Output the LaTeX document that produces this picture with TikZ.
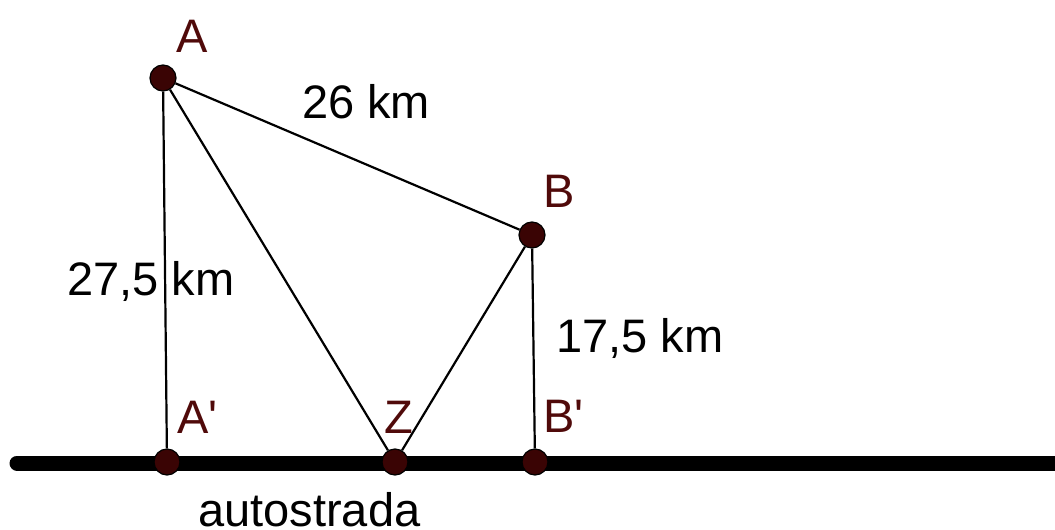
\documentclass[tikz,border=0pt]{standalone}
\usepackage{fontspec}
\setmainfont{Liberation Sans}
\usetikzlibrary{positioning}
\definecolor{pointfill}{RGB}{58,4,4}
\definecolor{pointtext}{RGB}{80,10,10}
\tikzset{
  point/.style={circle,draw=black,fill=pointfill,line width=1.2pt,minimum size=26pt,inner sep=0pt},
  ptname/.style={text=pointtext,font=\fontsize{47}{56}\selectfont,inner sep=0pt,anchor=base west},
  dist/.style={font=\fontsize{47}{56}\selectfont,inner sep=0pt,anchor=base west},
  seg/.style={line width=2.2pt},
}

\begin{document}
\begin{tikzpicture}[x=1pt,y=-1pt]
  \useasboundingbox (0,0) rectangle (1055,530);
  % road
  \coordinate (roadL) at (17,463);
  \coordinate (roadR) at (1070,463);
  \draw[line width=15pt,line cap=round] (roadL) -- (roadR);
  % points
  \node[point] (A) at (163,78) {};
  \node[point] (B) at (532,235) {};
  \node[point] (Ap) at (167,462) {};
  \node[point] (Z) at (395,462) {};
  \node[point] (Bp) at (535,462) {};
  \draw[seg] (A) -- (B);
  \draw[seg] (A) -- (Ap);
  \draw[seg] (A) -- (Z);
  \draw[seg] (B) -- (Z);
  \draw[seg] (B) -- (Bp);
  % names
  \node[ptname] (nameA) at (176,52) {A};
  \node[ptname] (nameB) at (543,207) {B};
  \node[ptname] (nameAp) at (177,433) {A\textquotesingle};
  \node[ptname] (nameZ) at (384,433) {Z};
  \node[ptname] (nameBp) at (543,432) {B\textquotesingle};
  % distances
  \node[dist] (dAB) at (302,118) {26 km};
  \node[dist] (dAAp) at (67,295) {27,5 km};
  \node[dist] (dBBp) at (556,352) {17,5 km};
  \node[dist] (road) at (198,526) {autostrada};
\end{tikzpicture}
\end{document}
